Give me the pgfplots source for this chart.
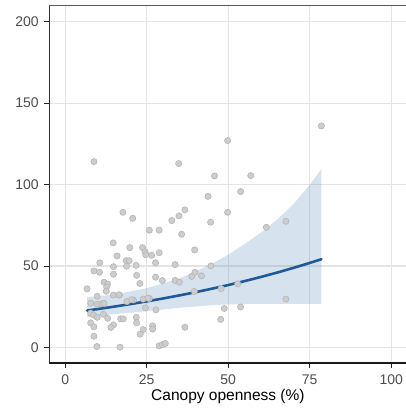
\documentclass[border=0pt]{standalone}
\usepackage{pgfplots}
\pgfplotsset{compat=1.18}
\usepackage{fontspec}
\setmainfont{Liberation Sans}
\definecolor{ptfill}{RGB}{205,205,205}
\definecolor{ptdraw}{RGB}{182,182,182}
\definecolor{ribbon}{RGB}{91,139,187}
\definecolor{fitline}{RGB}{31,90,150}
\definecolor{gridc}{RGB}{228,228,228}
\definecolor{ticklab}{RGB}{77,77,77}
\begin{document}
\begin{tikzpicture}
\path[use as bounding box] (0,0) rectangle (406pt,416pt);
\begin{axis}[
  at={(49.3pt,53pt)}, anchor=south west,
  scale only axis, width=357.2pt, height=357pt,
  xmin=-4.9, xmax=104.7, ymin=-9.5, ymax=209.6,
  xtick={0,25,50,75,100}, ytick={0,50,100,150,200},
  grid=major, major grid style={draw=gridc, line width=1.2pt},
  axis line style={draw=black!65, line width=1pt},
  tick pos=left, tick align=outside, major tick length=5pt,
  tick style={draw=black!85, line width=1pt},
  /pgf/number format/assume math mode=true,
  ticklabel style={font=\fontsize{14}{16}\selectfont, text=ticklab},
  xticklabel style={yshift=-3pt},
  yticklabel style={xshift=-2pt},
  xlabel={Canopy openness (\%)},
  xlabel style={font=\fontsize{15.5}{18}\selectfont, yshift=2pt},
  clip=true,
]
\addplot[only marks, mark=*, mark size=3.1pt, mark options={fill=ptfill, draw=ptdraw, line width=0.6pt}] coordinates {
(8.8,114.1) (78.6,136) (49.8,127) (34.8,112.9) (45.8,105.3) (56.9,105.5)
(53.8,95.7) (43.8,92.8) (17.7,83) (20.7,79.3) (36.7,84.5) (34.9,80.8)
(32.7,77.9) (49.8,83) (44.6,76.9) (25.8,72) (28.8,72) (35.7,69.5)
(61.7,73.8) (67.7,77.5) (14.7,64.2) (39.7,59.9) (19.8,61.3) (23.7,61.3)
(24.5,58.7) (24.7,56.9) (26.5,56.6) (28.8,58.2) (15.9,56.2) (18.7,53.3)
(19.6,53.3) (10.6,52) (8.8,47) (10.5,46.2) (14.8,49.6) (18.8,49.9)
(21.7,50.4) (27.7,52) (33.7,50.9) (44.7,50.1) (14.8,45) (21.9,44.3)
(27.7,43.2) (33.7,41.2) (35,40.1) (29.8,41.1) (38.8,43.6) (41.8,44)
(39.8,46.2) (11.9,40.1) (13,38.9) (12.7,37.2) (12.6,34.5) (22.9,39.3)
(6.7,36) (9.8,31.5) (14.7,32.2) (16.6,32.2) (7.8,27.2) (9.8,26.6)
(11.2,26.8) (11.9,27.1) (18.9,28.2) (20.9,29.2) (23.9,29.7) (25.8,30.1)
(24.6,24.3) (27.8,23.1) (7.8,21.1) (8.7,20) (11.7,20.4) (9.8,18.5)
(13,17.9) (17,17.6) (17.8,17.6) (21.8,18.5) (21.9,15.2) (7.8,15.1)
(8.8,12.7) (14.8,13.9) (14,12.3) (23.9,11) (26.8,13.3) (26.8,11.3)
(23,8.2) (8.8,6.9) (9.7,0.6) (16.8,0.2) (28.8,1) (29.8,1.8)
(30.7,2.5) (36.7,12.4) (47.7,17.3) (48.8,24) (53.8,24.9) (67.7,29.7)
(47.8,36.2) (52.9,39.1) (39.6,34.4) (20.4,29.3) (25.4,30.3) (16.5,32.3)
};
\addplot[fill=ribbon, fill opacity=0.25, draw=none] coordinates {
(6.7,30.9) (15,32.5) (25,36.4) (35,42.4) (45,51.3) (50,57) (55,63.5)
(60,70.5) (65,78.5) (70,88) (75,99.8) (78.6,109.5)
(78.6,26.8) (70,26.8) (60,26.8) (50,26.5) (45,26) (35,24.4) (25,22.3)
(15,20.5) (6.7,18.5)
};
\addplot[color=fitline, line width=2.6pt, line cap=round] coordinates {
(6.7,22.7) (10,23.62) (15,25.10) (20,26.67) (25,28.33) (30,30.10)
(35,31.98) (40,33.97) (45,36.10) (50,38.35) (55,40.74) (60,43.29)
(65,45.99) (70,48.86) (75,51.91) (78.6,54.2)
};
\draw[black!90, line width=1.2pt] (rel axis cs:0,1) -- (rel axis cs:0,0) -- (rel axis cs:1,0);
\end{axis}
\end{tikzpicture}
\end{document}
